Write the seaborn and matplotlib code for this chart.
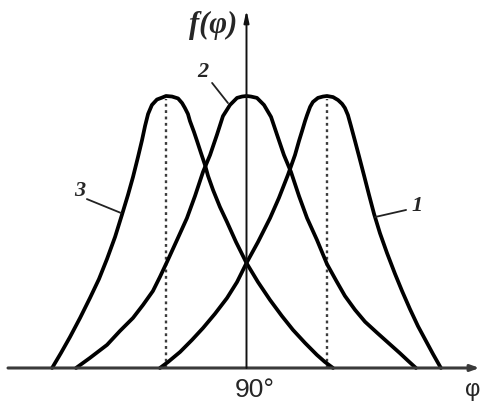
import matplotlib
matplotlib.use("Agg")
import matplotlib.pyplot as plt
import seaborn as sns
import pandas as pd

# Curve 1: peak at 130°
phi_1 = [47.0, 51.0, 57.0, 62.9, 68.4, 74.3, 80.3, 85.3, 90.0, 95.7, 101.7, 106.1,
         110.6, 114.1, 116.1, 117.6, 119.1, 120.1, 121.6, 123.0, 125.5, 128.0, 130.0,
         133.0, 135.5, 137.5, 138.9, 140.4, 141.9, 143.9, 145.9, 148.4, 150.9, 153.4,
         156.3, 159.8, 163.8, 167.3, 171.2, 175.2, 179.2, 182.7, 186.6]
f_1 = [0.0, 0.022, 0.059, 0.103, 0.147, 0.199, 0.257, 0.316, 0.386, 0.463, 0.551, 0.625,
       0.710, 0.783, 0.835, 0.871, 0.908, 0.930, 0.960, 0.978, 0.993, 0.998, 1.0,
       0.996, 0.985, 0.971, 0.956, 0.930, 0.890, 0.835, 0.779, 0.708, 0.636, 0.566,
       0.496, 0.423, 0.346, 0.283, 0.217, 0.154, 0.099, 0.051, 0.0]

# Curve 2: peak at 90°
phi_2 = [5.3, 12.2, 20.7, 27.1, 33.6, 38.6, 43.5, 47.0, 50.5, 55.5, 60.4, 64.4, 68.4,
         71.9, 75.3, 78.3, 81.8, 85.3, 87.8, 90.0, 92.2, 95.2, 98.7, 102.2, 105.2,
         108.6, 112.1, 116.1, 120.1, 125.0, 130.0, 134.5, 138.9, 143.9, 148.9, 154.8,
         161.3, 166.3, 170.2, 174.2]
f_2 = [0.0, 0.037, 0.085, 0.136, 0.184, 0.232, 0.283, 0.335, 0.390, 0.471, 0.551, 0.632,
       0.721, 0.783, 0.857, 0.926, 0.967, 0.993, 0.998, 1.0, 0.998, 0.993, 0.967, 0.923,
       0.857, 0.783, 0.721, 0.632, 0.551, 0.471, 0.382, 0.322, 0.265, 0.214, 0.170,
       0.130, 0.087, 0.054, 0.027, 0.0]

# Curve 3: peak at 50°
phi_3 = [-6.6, -2.2, 2.3, 7.3, 12.2, 16.7, 20.7, 24.7, 28.1, 31.1, 33.6, 36.1, 38.1,
         39.6, 41.1, 43.0, 45.5, 48.0, 50.0, 53.0, 56.0, 58.0, 59.4, 60.9, 61.9, 63.9,
         65.4, 67.4, 69.4, 70.9, 73.4, 76.8, 80.3, 84.8, 90.0, 95.7, 101.7, 107.6,
         113.1, 119.1, 125.0, 129.0, 133.0]
f_3 = [0.0, 0.055, 0.114, 0.184, 0.257, 0.327, 0.401, 0.482, 0.563, 0.636, 0.702, 0.776,
       0.838, 0.890, 0.934, 0.967, 0.987, 0.994, 1.0, 0.998, 0.991, 0.974, 0.956, 0.934,
       0.908, 0.868, 0.835, 0.790, 0.746, 0.706, 0.654, 0.592, 0.537, 0.463, 0.386,
       0.316, 0.250, 0.191, 0.140, 0.092, 0.048, 0.022, 0.0]

peak_positions = [50.0, 130.0]
curve_labels = ["1", "2", "3"]
label_pos = [(174.7, 0.596), (68.4, 1.088), (7.3, 0.651)]
leader_from = [(169.3, 0.581), (72.9, 1.048), (10.7, 0.621)]
leader_to = [(153.9, 0.555), (80.8, 0.974), (27.6, 0.570)]

sns.set_style("white")
fig = plt.figure(figsize=(4.82, 4.03), dpi=100)
ax = fig.add_axes([0, 0, 1, 1])
ax.set_xlim(-32.48, 207.02)
ax.set_ylim(-0.1287, 1.3529)
ax.set_axis_off()

# axes with arrows
ax.annotate("", xy=(205.8, 0.0), xytext=(-28.5, 0.0),
            arrowprops=dict(arrowstyle="-|>,head_length=0.5,head_width=0.18",
                            color="#3a3a3a", lw=2.2, shrinkA=0, shrinkB=0))
ax.annotate("", xy=(90.0, 1.316), xytext=(90.0, 0.0),
            arrowprops=dict(arrowstyle="-|>,head_length=0.7,head_width=0.15",
                            color="#111111", lw=1.4, shrinkA=0, shrinkB=0))

# dotted verticals at the side peaks
for p in peak_positions:
    ax.plot([p, p], [0.0, 0.99], linestyle=(0, (1.2, 1.5)), color="#3c3c3c", lw=1.7)

for xs, ys in [(phi_1, f_1), (phi_2, f_2), (phi_3, f_3)]:
    df = pd.DataFrame({"phi": xs, "f": ys})
    sns.lineplot(data=df, x="phi", y="f", ax=ax, color="black", lw=2.7,
                 sort=False, estimator=None, solid_joinstyle="round",
                 solid_capstyle="round")

for lab, (tx, ty), (ax0, ay0), (ax1, ay1) in zip(curve_labels, label_pos,
                                                  leader_from, leader_to):
    ax.text(tx, ty, lab, ha="center", va="center", fontsize=16,
            family="Liberation Serif", style="italic", weight="bold")
    ax.plot([ax0, ax1], [ay0, ay1], color="#222222", lw=1.3)

ax.text(73.4, 1.261, "f(φ)", ha="center", va="center", fontsize=22,
        family="Liberation Serif", style="italic", weight="bold")
ax.text(94.2, -0.081, "90°", ha="center", va="center", fontsize=19,
        family="Liberation Sans")
ax.text(198.6, -0.081, "φ", ha="left", va="center", fontsize=17,
        family="Liberation Sans")

fig.savefig("out.png", dpi=100)
